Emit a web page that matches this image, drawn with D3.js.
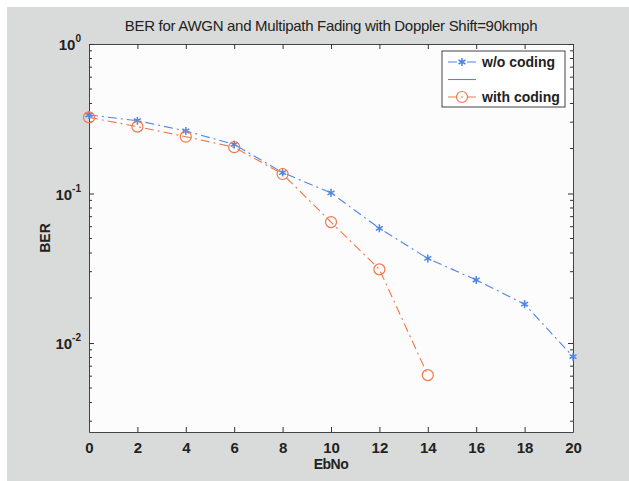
<!DOCTYPE html>
<html>
<head>
<meta charset="utf-8">
<script src="https://cdn.jsdelivr.net/npm/d3@7"></script>
<style>
  body { margin: 0; background: #fff; }
  svg { display: block; }
  text { font-family: "Liberation Sans", Arial, sans-serif; fill: #222; }
</style>
</head>
<body>
<div id="chart"></div>
<script>
// data
const ebno = [0, 2, 4, 6, 8, 10, 12, 14, 16, 18, 20]
const berUncoded = [0.335, 0.307, 0.262, 0.213, 0.138, 0.101, 0.0585, 0.0368, 0.0264, 0.0182, 0.0081]
const ebnoCoded = [0, 2, 4, 6, 8, 10, 12, 14]
const berCoded = [0.323, 0.280, 0.240, 0.204, 0.135, 0.0644, 0.0311, 0.0061]
const xTicks = [0, 2, 4, 6, 8, 10, 12, 14, 16, 18, 20]
const yMajor = [1, 0.1, 0.01]
const legendLabels = ["w/o coding", "", "with coding"]

const W = 629, H = 481
const margin = {left: 89, top: 44, right: W - 573, bottom: H - 432}
const width = W - margin.left - margin.right
const height = H - margin.top - margin.bottom
const blue = "#4f86e6", orange = "#f0774a"

const root = d3.select("#chart").append("svg")
  .attr("width", W).attr("height", H)

// figure background (grey, white strip top/left like the scan)
root.append("rect").attr("width", W).attr("height", H).attr("fill", "#fff")
root.append("rect").attr("x", 7).attr("y", 7).attr("width", W - 7).attr("height", H - 7)
  .attr("fill", "#d9dbdb")

const svg = root.append("g").attr("transform", `translate(${margin.left},${margin.top})`)

svg.append("rect").attr("width", width).attr("height", height).attr("fill", "#fdfcfd")

var x = d3.scaleLinear().domain([0, 20]).range([0, width])
var y = d3.scaleLog().domain([0.00254, 1]).range([height, 0])

// minor ticks for log axis
const yMinor = []
;[0.001, 0.01, 0.1].forEach(d => { for (let k = 2; k <= 9; k++) { const v = d * k; if (v >= 0.00254 && v < 1) yMinor.push(v) } })

// x axis bottom / top, ticks inside
svg.append("g").attr("class", "X")
  .attr("transform", `translate(0,${height})`)
  .call(d3.axisBottom(x).tickValues(xTicks).tickSizeInner(-5).tickSizeOuter(0).tickPadding(10))
svg.append("g")
  .call(d3.axisTop(x).tickValues(xTicks).tickSizeInner(-5).tickSizeOuter(0).tickFormat(""))

// y axis left / right
const yl = svg.append("g").attr("class", "Y")
  .call(d3.axisLeft(y).tickValues(yMajor).tickSizeInner(-5).tickSizeOuter(0).tickFormat(""))
yl.selectAll(".minor").data(yMinor).enter().append("line")
  .attr("x1", 0).attr("x2", 3).attr("y1", d => y(d)).attr("y2", d => y(d)).attr("stroke", "#333")
const yr = svg.append("g").attr("transform", `translate(${width},0)`)
  .call(d3.axisRight(y).tickValues(yMajor).tickSizeInner(-5).tickSizeOuter(0).tickFormat(""))
yr.selectAll(".minor").data(yMinor).enter().append("line")
  .attr("x1", 0).attr("x2", -3).attr("y1", d => y(d)).attr("y2", d => y(d)).attr("stroke", "#333")

svg.selectAll(".domain").attr("stroke", "#444")
svg.selectAll(".tick line").attr("stroke", "#333")
svg.selectAll(".X .tick text").style("font-size", "15px").style("font-weight", "bold").attr("fill", "#222")

// y tick labels as 10^n
const yLab = svg.selectAll(".ylab").data(yMajor).enter().append("text")
  .attr("x", -8).attr("y", d => y(d) + 6)
  .attr("text-anchor", "end")
  .style("font-size", "15px").style("font-weight", "bold")
yLab.append("tspan").text("10")
yLab.append("tspan").attr("dy", -8).style("font-size", "10px")
  .text(d => Math.round(Math.log10(d)))

// lines
const line = d3.line().x(d => x(d[0])).y(d => y(d[1]))
const uncoded = ebno.map((e, i) => [e, berUncoded[i]])
const coded = ebnoCoded.map((e, i) => [e, berCoded[i]])

svg.append("path").datum(uncoded).attr("d", line).attr("fill", "none")
  .attr("stroke", blue).attr("stroke-width", 1.1).attr("stroke-dasharray", "9,4,2,4")
svg.append("path").datum(coded).attr("d", line).attr("fill", "none")
  .attr("stroke", orange).attr("stroke-width", 1.1).attr("stroke-dasharray", "9,4,2,4")

// star markers
const star = d3.symbol().type(d3.symbolAsterisk).size(45)
svg.selectAll(".star").data(uncoded).enter().append("path")
  .attr("transform", d => `translate(${x(d[0])},${y(d[1])})`)
  .attr("d", star).attr("fill", "none").attr("stroke", blue).attr("stroke-width", 1.5)

svg.selectAll(".circ").data(coded).enter().append("circle")
  .attr("cx", d => x(d[0])).attr("cy", d => y(d[1])).attr("r", 5.5)
  .attr("fill", "none").attr("stroke", orange).attr("stroke-width", 1.2)

// legend
const lg = root.append("g").attr("transform", "translate(442,51)")
lg.append("rect").attr("width", 123).attr("height", 56).attr("fill", "#fff")
  .attr("stroke", "#444").attr("stroke-width", 1)
const rows = [
  {c: blue, m: "star", dash: "9,4,2,4"},
  {c: blue, m: null, dash: null},
  {c: orange, m: "circle", dash: "9,4,2,4"}
]
rows.forEach((r, i) => {
  const yy = 11 + i * 17.5
  lg.append("line").attr("x1", 6).attr("x2", 34).attr("y1", yy).attr("y2", yy)
    .attr("stroke", r.c).attr("stroke-width", 1.1).attr("stroke-dasharray", r.dash)
  if (r.m === "star") lg.append("path").attr("transform", `translate(20,${yy})`).attr("d", star)
    .attr("fill", "none").attr("stroke", r.c).attr("stroke-width", 1.5)
  if (r.m === "circle") lg.append("circle").attr("cx", 20).attr("cy", yy).attr("r", 5.5)
    .attr("fill", "none").attr("stroke", r.c).attr("stroke-width", 1.2)
  lg.append("text").attr("x", 40).attr("y", yy + 5).text(legendLabels[i])
    .style("font-size", "14px").style("font-weight", "bold")
})

// titles
root.append("text").attr("x", (89 + 573) / 2).attr("y", 31).attr("text-anchor", "middle")
  .style("font-size", "15px").style("letter-spacing", "-0.3px")
  .text("BER for AWGN and Multipath Fading with Doppler Shift=90kmph")
root.append("text").attr("x", (89 + 573) / 2).attr("y", 469).attr("text-anchor", "middle")
  .style("font-size", "14px").style("font-weight", "bold").style("letter-spacing", "-0.5px")
  .text("EbNo")
root.append("text").attr("transform", "translate(50,238) rotate(-90)").attr("text-anchor", "middle")
  .style("font-size", "14px").style("font-weight", "bold")
  .text("BER")
</script>
</body>
</html>
